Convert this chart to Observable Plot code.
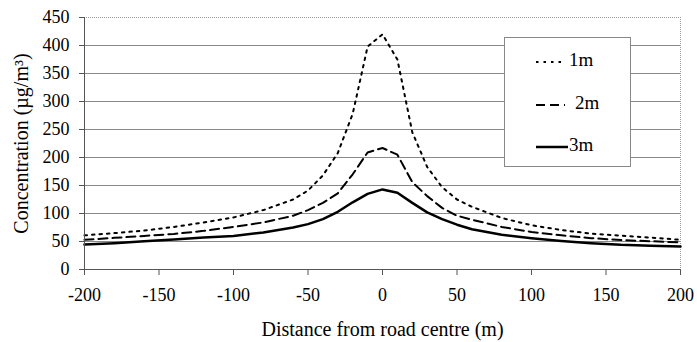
<!DOCTYPE html>
<html>
<head>
<meta charset="utf-8">
<script src="https://cdn.jsdelivr.net/npm/d3@7"></script>
<script src="https://cdn.jsdelivr.net/npm/@observablehq/plot@0.6"></script>
<style>
  html, body { margin: 0; padding: 0; background: #fff; }
  #wrap { position: relative; width: 697px; height: 342px; font-family: "Liberation Serif", "Times New Roman", serif; }
  #legend { position: absolute; left: 504px; top: 37px; width: 127px; height: 130px; background: #fff; border: 1px solid #888; box-sizing: border-box; }
  #legend .row { position: absolute; left: 0; height: 20px; }
  #legend svg { position: absolute; left: 31px; top: 2px; }
  #legend span { position: absolute; font-size: 19px; color: #000; white-space: nowrap; font-family: "Liberation Serif", serif; }
</style>
</head>
<body>
<div id="wrap"></div>
<script>
// Data
const distances = [-200,-180,-160,-140,-120,-100,-80,-60,-50,-40,-30,-20,-10,0,10,20,30,40,50,60,80,100,120,140,160,180,200];
const conc1m = [61,65,69.5,76,84,93,106,125,141,168,208,278,398,420,375,245,183,147,125,112,92,79,70.5,64,60.5,57,53];
const conc2m = [53,56.5,60,63.5,69,76,84,96,106,119,136,170,209,217,205,156,131,110,96,89,76,67,61,56,52.5,50.5,48.5];
const conc3m = [44.5,47,50.5,53.5,57,60,66,75,81,90,103,120,135,143,137,119,102,90,80,72,62,56,51,47,44,42.5,41];
const seriesNames = ["1m","2m","3m"];
const yTicks = [0,50,100,150,200,250,300,350,400,450];
const xTicks = [-200,-150,-100,-50,0,50,100,150,200];
const gridVals = [50,100,150,200,250,300,350,400];

const seriesVals = [conc1m, conc2m, conc3m];
const dashes = ["2.5,5", "9,5", null];
const widths = [2, 2, 2.5];
const tables = seriesNames.map((s, i) => distances.map((d, j) => ({series: s, x: d, y: seriesVals[i][j]})));

const font = "Liberation Serif";
const chart = Plot.plot({
  width: 697,
  height: 342,
  marginLeft: 84,
  marginRight: 17,
  marginTop: 17,
  marginBottom: 73,
  style: {fontFamily: font, fontSize: "18px", color: "#000", background: "#fff", overflow: "visible"},
  x: {domain: [-200, 200]},
  y: {domain: [0, 450]},
  marks: [
    Plot.ruleY(gridVals, {stroke: "#8a8a8a", strokeWidth: 1}),
    Plot.ruleY([450], {stroke: "#999", strokeWidth: 1, strokeDasharray: "1,1"}),
    Plot.ruleX([200], {stroke: "#999", strokeWidth: 1, strokeDasharray: "1,1"}),
    ...tables.map((t, i) => Plot.line(t, {x: "x", y: "y", stroke: "#000", strokeWidth: widths[i], strokeDasharray: dashes[i], strokeLinejoin: "round"})),
    Plot.ruleY([0], {stroke: "#555", strokeWidth: 1}),
    Plot.ruleX([-200], {stroke: "#555", strokeWidth: 1}),
    Plot.axisY({ticks: yTicks, tickSize: 5, tickPadding: 10, fontSize: 18, stroke: "#555", tickFormat: d => String(d),
      label: null}),
    Plot.axisY({ticks: [], label: "Concentration (µg/m³)", labelAnchor: "center", labelOffset: 71, labelArrow: false, fontSize: 20, tickSize: 0}),
    Plot.axisX({ticks: xTicks, tickSize: 6, tickPadding: 13, fontSize: 18, stroke: "#555", tickFormat: d => String(d),
      label: null}),
    Plot.axisX({ticks: [], label: "Distance from road centre (m)", labelAnchor: "center", labelOffset: 66, labelArrow: false, fontSize: 20, tickSize: 0})
  ]
});
const wrap = document.getElementById("wrap");
wrap.appendChild(chart);

// Legend
const legend = document.createElement("div");
legend.id = "legend";
const rowTops = [14, 57, 99];
const textLeft = [64, 70, 64];
seriesNames.forEach((name, i) => {
  const row = document.createElement("div");
  row.className = "row";
  row.style.top = rowTops[i] + "px";
  row.style.width = "125px";
  const svg = d3.create("svg").attr("width", 32).attr("height", 16);
  svg.append("line").attr("x1", 0).attr("x2", i === 2 ? 32 : 29).attr("y1", 8).attr("y2", 8)
    .attr("stroke", "#000").attr("stroke-width", widths[i]).attr("stroke-dasharray", dashes[i]);
  row.appendChild(svg.node());
  const span = document.createElement("span");
  span.textContent = name;
  span.style.left = textLeft[i] + "px";
  span.style.top = "-3px";
  row.appendChild(span);
  legend.appendChild(row);
});
wrap.appendChild(legend);
</script>
</body>
</html>
